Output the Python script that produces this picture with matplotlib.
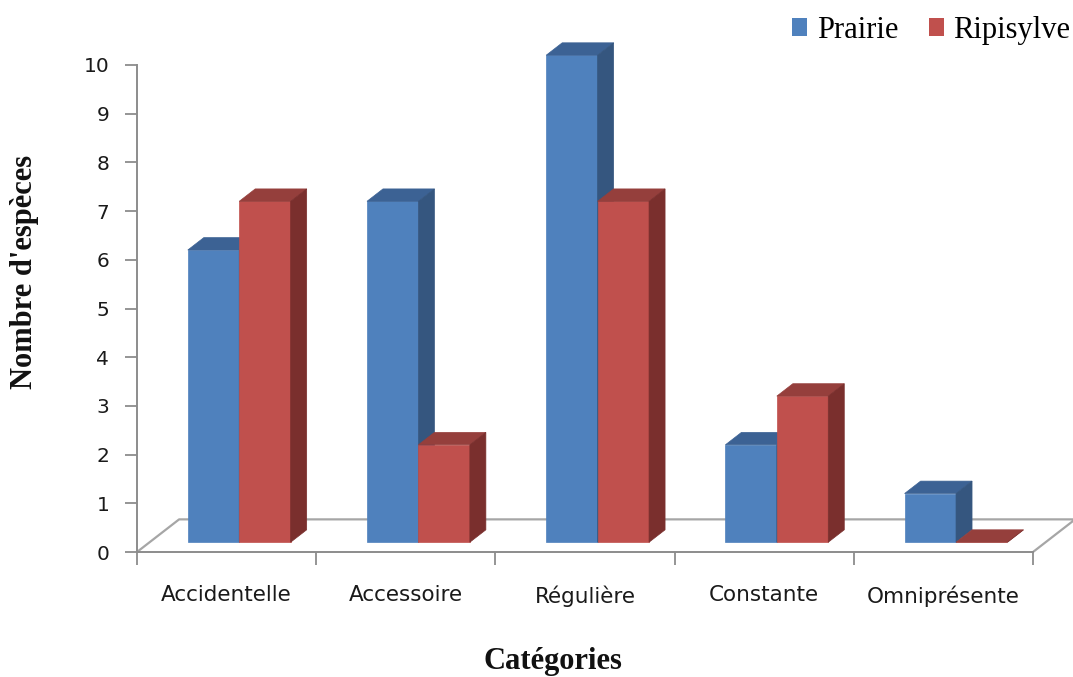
import numpy as np
import matplotlib.pyplot as plt
from matplotlib.patches import Polygon, Patch

categories = ["Accidentelle", "Accessoire", "Régulière", "Constante", "Omniprésente"]
prairie = [6, 7, 10, 2, 1]
ripisylve = [7, 2, 7, 3, 0]
series_names = ["Prairie", "Ripisylve"]

# front / top / side shades for each series
shades = {
    "Prairie": ("#4F81BD", "#3C6294", "#35567F"),
    "Ripisylve": ("#C0504D", "#953F3C", "#7A2F2D"),
}
grey = "#8C8C8C"

fig = plt.figure(figsize=(10.73, 6.77), dpi=100)
ax = fig.add_axes([137 / 1073, 125 / 677, 896 / 1073, 487 / 677])
ax.set_xlim(-0.5, len(categories) - 0.5)
ax.set_ylim(0, 10)
ax.patch.set_visible(False)

# oblique depth of the floor, in data units
DX, DY = 0.235, 0.67
front = 0.3   # where the bar fronts sit inside the floor depth
depth = 0.38  # bar thickness as a share of floor depth
bar_w = 0.287

# floor outline (front edge is the bottom spine)
ax.plot([-0.5, -0.5 + DX, len(categories) - 0.5 + DX, len(categories) - 0.5],
        [0, DY, DY, 0], color="#A6A6A6", lw=1.6, clip_on=False, zorder=1)

x = np.arange(len(categories))
bdx, bdy = depth * DX, depth * DY
for i, (name, vals) in enumerate(zip(series_names, [prairie, ripisylve])):
    c_front, c_top, c_side = shades[name]
    for xi, v in zip(x, vals):
        x0 = xi - bar_w + i * bar_w + front * DX
        y0 = front * DY
        x1, y1 = x0 + bar_w, y0 + v
        faces = [
            ([(x0, y0), (x1, y0), (x1, y1), (x0, y1)], c_front),
            ([(x0, y1), (x1, y1), (x1 + bdx, y1 + bdy), (x0 + bdx, y1 + bdy)], c_top),
            ([(x1, y0), (x1 + bdx, y0 + bdy), (x1 + bdx, y1 + bdy), (x1, y1)], c_side),
        ]
        for pts, col in faces:
            ax.add_patch(Polygon(pts, closed=True, facecolor=col, edgecolor=col,
                                 lw=0.5, clip_on=False, zorder=3))

for s in ["top", "right"]:
    ax.spines[s].set_visible(False)
for s in ["left", "bottom"]:
    ax.spines[s].set_color(grey)
    ax.spines[s].set_linewidth(1.4)

ax.set_yticks(range(0, 11))
ax.tick_params(axis="y", direction="out", length=9, width=1.3, color=grey,
               pad=11, labelsize=14.5, labelcolor="#1A1A1A")

ax.set_xticks(np.arange(-0.5, len(categories)), labels=[])
ax.set_xticks(x, labels=categories, minor=True)
ax.tick_params(axis="x", which="major", direction="out", length=9, width=1.3, color=grey)
ax.tick_params(axis="x", which="minor", length=0, pad=24, labelsize=15.5, labelcolor="#1A1A1A")

ax.set_xlabel("Catégories", family="Liberation Serif", fontweight="bold",
              fontsize=22, color="#111111")
ax.xaxis.set_label_coords((553 - 137) / 896, (552 - 661) / 487)
ax.xaxis.label.set_va("center")
ax.set_ylabel("Nombre d'espèces", family="Liberation Serif", fontweight="bold",
              fontsize=22, color="#111111")
ax.yaxis.set_label_coords((25 - 137) / 896, (552 - 272) / 487)
ax.yaxis.label.set_va("center")

handles = [Patch(facecolor=shades[n][0]) for n in series_names]
ax.legend(handles, series_names, loc="upper right",
          bbox_to_anchor=(1070 / 1073, 1 - 16 / 677), bbox_transform=fig.transFigure,
          ncol=2, frameon=False, prop={"family": "Liberation Serif", "size": 22},
          handlelength=0.5, handleheight=0.5, handletextpad=0.3,
          columnspacing=1.0, borderaxespad=0, borderpad=0)

fig.savefig("out.png", dpi=100)
